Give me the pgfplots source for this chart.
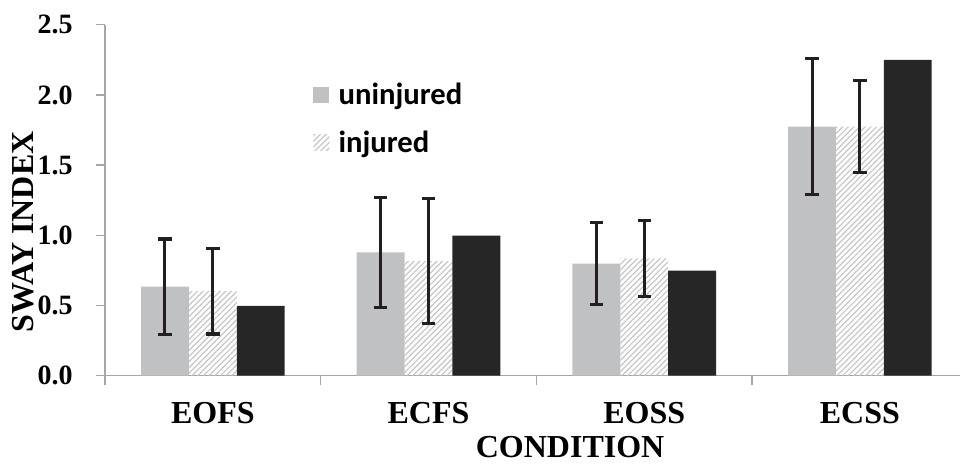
\documentclass[border=0pt]{standalone}
\usepackage{pgfplots}
\pgfplotsset{compat=1.18}
\usetikzlibrary{patterns.meta}
\usepackage{fontspec}
\setmainfont{Liberation Serif}
\newfontfamily\legfont{Carlito}
\definecolor{barGray}{HTML}{C0C1C3}
\definecolor{barBlack}{HTML}{262626}
\definecolor{axGray}{HTML}{A6A6A6}
\definecolor{errCol}{HTML}{231F20}
\definecolor{hatchCol}{HTML}{C6C6C6}
\begin{document}
\begin{tikzpicture}
\begin{axis}[
  at={(0pt,0pt)}, anchor=south west,
  scale only axis, width=641.25pt, height=263.25pt,
  xmin=-0.5, xmax=3.464, ymin=0, ymax=2.5,
  axis x line=bottom, axis y line=left,
  axis line style={-, draw=axGray, line width=1.1pt},
  tick style={draw=axGray, line width=1.1pt},
  tick align=outside, major tick length=7pt,
  xtick={-0.5,0.5,1.5,2.5}, xticklabels={},
  extra x ticks={0,1,2,3},
  extra x tick labels={EOFS,ECFS,EOSS,ECSS},
  extra x tick style={major tick length=0pt,
    xticklabel style={font=\fontsize{24}{28}\selectfont\bfseries, anchor=north, inner sep=0pt, yshift=-20pt}},
  ytick={0,0.5,1,1.5,2,2.5},
  yticklabel style={font=\fontsize{21}{25}\selectfont\bfseries, anchor=east, inner sep=0pt, xshift=-17pt},
  /pgf/number format/.cd, fixed, fixed zerofill, precision=1, assume math mode=true, /pgfplots/.cd,
  xlabel={CONDITION},
  xlabel style={at={(axis description cs:0.544,0)}, anchor=base, inner sep=0pt, yshift=-61.5pt, font=\fontsize{24}{28}\selectfont\bfseries},
  ylabel={SWAY INDEX},
  ylabel style={at={([xshift=-53.8pt]axis description cs:0,0.41)}, anchor=base, inner sep=0pt, font=\fontsize{24}{28}\selectfont\bfseries},
  legend style={at={(axis description cs:0.2433,0.843)}, anchor=north west, draw=none, fill=none, inner sep=0pt,
    font=\legfont\fontsize{23}{26}\selectfont\bfseries, row sep=14.5pt},
  legend cell align=left,
  legend image code/.code={\fill[#1,draw=none] (0pt,-6pt) rectangle (12pt,6pt); \path (17pt,0pt);},
]
\addplot[ybar, bar width=0.222, bar shift=0, fill=barGray, draw=none,
  error bars/.cd, y dir=both, y explicit,
  error bar style={line width=2.3pt, draw=errCol},
  error mark options={rotate=90, mark size=5pt, line width=2.3pt, draw=errCol}]
  coordinates {(-0.222,0.634) +- (0,0.34) (0.778,0.879) +- (0,0.393) (1.778,0.798) +- (0,0.293) (2.778,1.774) +- (0,0.485)};
\addlegendentry{uninjured}
\addplot[ybar, bar width=0.222, bar shift=0, draw=none,
  pattern={Lines[angle=45,distance=3pt,line width=0.9pt]}, pattern color=hatchCol,
  error bars/.cd, y dir=both, y explicit,
  error bar style={line width=2.3pt, draw=errCol},
  error mark options={rotate=90, mark size=5pt, line width=2.3pt, draw=errCol}]
  coordinates {(0,0.603) +- (0,0.306) (1,0.817) +- (0,0.447) (2,0.836) +- (0,0.27) (3,1.774) +- (0,0.328)};
\addlegendentry{injured}
\addplot[ybar, bar width=0.222, bar shift=0, fill=barBlack, draw=none]
  coordinates {(0.222,0.497) (1.222,0.997) (2.222,0.748) (3.222,2.249)};
\end{axis}
\pgfresetboundingbox
\path (-78.75pt,-67.7pt) rectangle (641.25pt,281.8pt);
\end{tikzpicture}
\end{document}
